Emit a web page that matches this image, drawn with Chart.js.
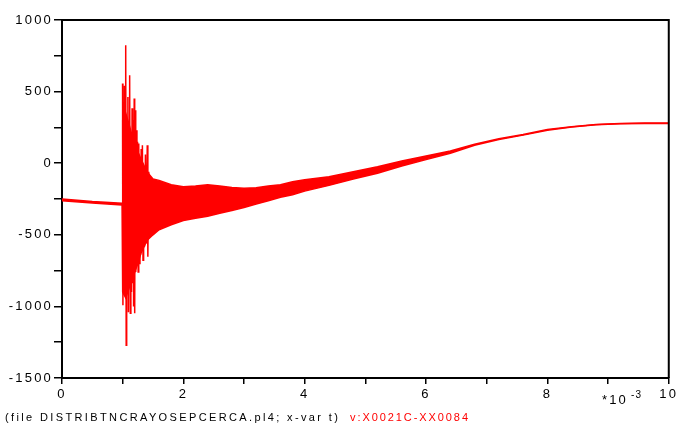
<!DOCTYPE html>
<html lang="en">
<head>
  <meta charset="utf-8" />
  <title>ATP plot: v:X0021C-XX0084</title>
  <script src="https://cdn.jsdelivr.net/npm/chart.js@4/dist/chart.umd.min.js"></script>
  <style>
    html, body { margin: 0; padding: 0; background: #fff; }
    #wrap { width: 679px; height: 428px; }
  </style>
</head>
<body>
  <div id="wrap"><canvas id="plot" width="679" height="428"></canvas></div>

  <script>
    // time in ms (axis shows *10^-3 s), voltage values
    const tEnv = [0, 0.5, 0.99, 1.0, 1.05, 1.1, 1.15, 1.2, 1.25, 1.3, 1.4, 1.5, 1.6, 1.8, 2.0, 2.2, 2.4, 2.6, 2.8,
                  3.0, 3.2, 3.4, 3.6, 3.8, 4.0, 4.4, 4.8, 5.2, 5.6, 6.0, 6.4, 6.8, 7.2, 7.6,
                  8.0, 8.4, 8.8, 9.2, 9.6, 10];
    const vUpper = [-250, -268, -280, 300, 350, 280, 200, 140, 80, 30, -60, -110, -120, -150, -165, -160, -150, -160, -170,
                    -175, -172, -160, -150, -130, -115, -95, -60, -25, 15, 50, 85, 132, 170, 200,
                    235, 255, 270, 278, 281, 281];
    const vLower = [-262, -278, -292, -900, -940, -880, -820, -760, -700, -630, -540, -500, -465, -430, -400, -385, -370, -350, -330,
                    -310, -285, -262, -238, -220, -195, -155, -110, -70, -20, 25, 70, 125, 165, 196,
                    230, 252, 268, 276, 278, 278];

    // oscillation burst right after the switching instant
    const tBurst = [0.998, 1.004, 1.012, 1.02, 1.03, 1.04, 1.05, 1.058, 1.066, 1.075, 1.086, 1.095,
                    1.105, 1.112, 1.118, 1.126, 1.135, 1.145, 1.155, 1.163, 1.172, 1.18, 1.19, 1.198,
                    1.207, 1.215, 1.225, 1.235, 1.245, 1.255, 1.265, 1.275, 1.285, 1.295, 1.305, 1.315,
                    1.325, 1.335, 1.345, 1.36, 1.375, 1.39, 1.405, 1.415, 1.43, 1.45];
    const vBurst = [557, -992, 200, -700, 540, -860, 824, -1271, 300, -800, 463, -1040,
                    250, -760, 614, -1047, 200, -900, 384, -838, 300, -1000, 452, -1047,
                    370, -760, 230, -677, 150, -760, 137, -700, 44, -640, 100, -584,
                    126, -677, -26, -584, 60, -560, 126, -654, -60, -515];

    const xLabels = [0, 2, 4, 6, 8, 10];
    const yLabels = [1000, 500, 0, -500, -1000, -1500];

    const FONT = "'Liberation Sans', Arial, sans-serif";
    const RED = "#ff0000";

    function pts(ts, vs) {
      return ts.map((t, i) => ({ x: t, y: vs[i] }));
    }

    // plotter-style wide letter spacing for tick labels
    const spacing = {
      id: "spacing",
      beforeDraw(chart) { chart.ctx.letterSpacing = "2.2px"; },
      afterDatasetsDraw(chart) { chart.ctx.letterSpacing = "2.2px"; }
    };

    // top/right frame, exponent label and the footer line
    const decorations = {
      id: "decorations",
      afterDraw(chart) {
        const { ctx, chartArea: a } = chart;
        ctx.save();
        ctx.letterSpacing = "0px";
        ctx.strokeStyle = "#000";
        ctx.lineWidth = 2;
        ctx.beginPath();
        ctx.moveTo(a.left, a.top);
        ctx.lineTo(a.right, a.top);
        ctx.lineTo(a.right, a.bottom);
        ctx.stroke();

        const xs = chart.scales.x;
        const x9 = xs.getPixelForValue(9);
        ctx.fillStyle = "#000";
        ctx.textBaseline = "alphabetic";
        ctx.textAlign = "left";
        ctx.font = "13px " + FONT;
        ctx.letterSpacing = "2px";
        ctx.fillText("*10", x9 - 6, 404);
        ctx.font = "10px " + FONT;
        ctx.letterSpacing = "1px";
        ctx.fillText("-3", x9 + 23, 398);

        ctx.font = "11px " + FONT;
        const fit = (txt, x, w, color) => {
          ctx.letterSpacing = "0px";
          const nat = ctx.measureText(txt).width;
          ctx.letterSpacing = ((w - nat) / (txt.length - 1)).toFixed(2) + "px";
          ctx.fillStyle = color;
          ctx.fillText(txt, x, 421);
        };
        fit("(file DISTRIBTNCRAYOSEPCERCA.pl4; x-var t)", 5, 333, "#000");
        fit("v:X0021C-XX0084", 350, 118, RED);
        ctx.restore();
      }
    };

    new Chart(document.getElementById("plot"), {
      type: "line",
      data: {
        datasets: [
          {
            data: pts(tBurst, vBurst),
            borderColor: RED,
            borderWidth: 1.5,
            pointRadius: 0,
            fill: false
          },
          {
            data: pts(tEnv, vUpper),
            borderColor: RED,
            borderWidth: 1.5,
            pointRadius: 0,
            fill: false
          },
          {
            data: pts(tEnv, vLower),
            borderColor: RED,
            backgroundColor: RED,
            borderWidth: 1.5,
            pointRadius: 0,
            fill: "-1"
          }
        ]
      },
      options: {
        responsive: false,
        animation: false,
        devicePixelRatio: 1,
        layout: { padding: { left: 0, right: 9, top: 20, bottom: 0 } },
        plugins: { legend: { display: false }, tooltip: { enabled: false } },
        scales: {
          x: {
            type: "linear",
            min: 0,
            max: 10,
            afterFit(s) { s.height = 50; },
            border: { color: "#000", width: 2 },
            grid: { drawOnChartArea: false, drawTicks: true, tickLength: 6, color: "#000", lineWidth: 1.5 },
            ticks: {
              stepSize: 1,
              autoSkip: false,
              maxRotation: 0,
              padding: 3,
              color: "#000",
              font: { family: FONT, size: 13 },
              callback: v => (xLabels.includes(v) ? String(v) : "")
            }
          },
          y: {
            min: -1500,
            max: 1000,
            afterFit(s) { s.width = 62; },
            border: { color: "#000", width: 2 },
            grid: { drawOnChartArea: false, drawTicks: true, tickLength: 8, color: "#000", lineWidth: 1.5 },
            ticks: {
              stepSize: 250,
              autoSkip: false,
              padding: 1,
              color: "#000",
              font: { family: FONT, size: 13 },
              callback: v => (yLabels.includes(v) ? String(v) : "")
            }
          }
        }
      },
      plugins: [spacing, decorations]
    });
  </script>
</body>
</html>
